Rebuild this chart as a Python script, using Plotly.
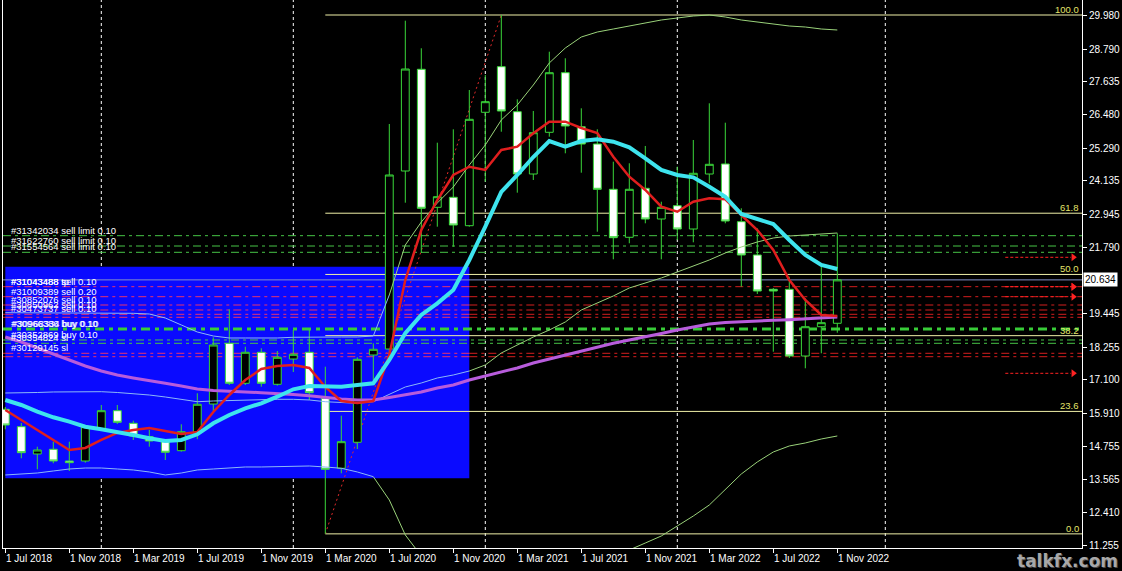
import plotly.graph_objects as go

# ---------------- data ----------------
months = [
    "Jul 2018", "Aug 2018", "Sep 2018", "Oct 2018", "Nov 2018", "Dec 2018",
    "Jan 2019", "Feb 2019", "Mar 2019", "Apr 2019", "May 2019", "Jun 2019",
    "Jul 2019", "Aug 2019", "Sep 2019", "Oct 2019", "Nov 2019", "Dec 2019",
    "Jan 2020", "Feb 2020", "Mar 2020", "Apr 2020", "May 2020", "Jun 2020",
    "Jul 2020", "Aug 2020", "Sep 2020", "Oct 2020", "Nov 2020", "Dec 2020",
    "Jan 2021", "Feb 2021", "Mar 2021", "Apr 2021", "May 2021", "Jun 2021",
    "Jul 2021", "Aug 2021", "Sep 2021", "Oct 2021", "Nov 2021", "Dec 2021",
    "Jan 2022", "Feb 2022", "Mar 2022", "Apr 2022", "May 2022", "Jun 2022",
    "Jul 2022", "Aug 2022", "Sep 2022", "Oct 2022", "Nov 2022",
]
opens = [16.057, 15.441, 14.476, 14.642, 14.228, 14.228, 15.349, 16.007, 15.562, 15.088,
         14.911, 14.592, 15.229, 16.244, 18.391, 16.977, 18.073, 16.941, 17.836, 18.073,
         16.446, 13.970, 14.890, 17.978, 18.190, 24.486, 28.084, 23.202, 23.556, 22.551,
         26.563, 28.176, 26.584, 24.380, 25.855, 27.963, 26.053, 25.441, 23.839, 22.141,
         23.874, 22.788, 23.259, 22.434, 24.380, 24.734, 22.693, 21.515, 20.301, 20.301,
         17.942, 18.978, 19.099]
highs = [16.140, 15.572, 14.734, 14.911, 14.911, 15.501, 16.209, 16.209, 15.653, 15.325,
         14.971, 15.526, 16.623, 18.604, 19.594, 18.271, 18.215, 18.119, 18.862, 18.897,
         17.564, 15.830, 17.896, 18.391, 26.149, 29.803, 28.827, 25.487, 25.961, 27.351,
         27.882, 30.004, 27.022, 26.609, 28.706, 28.473, 26.704, 25.961, 24.815, 24.759,
         25.371, 23.400, 24.638, 25.583, 26.881, 26.195, 23.167, 22.459, 20.347, 20.747,
         19.983, 21.161, 22.282]
lows = [15.350, 14.323, 13.934, 14.147, 13.874, 14.168, 15.289, 15.537, 14.971, 14.734,
        14.263, 14.557, 15.000, 16.000, 16.916, 16.916, 16.856, 16.892, 17.376, 16.386,
        11.650, 13.793, 14.652, 16.987, 17.730, 23.365, 21.586, 22.516, 21.808, 22.516,
        24.108, 25.876, 23.719, 24.168, 25.699, 25.112, 24.426, 22.339, 21.363, 21.929,
        22.636, 21.363, 22.045, 21.964, 24.051, 22.636, 20.394, 20.135, 18.094, 17.871,
        17.507, 18.037, 18.766]
closes = [15.501, 14.521, 14.617, 14.228, 14.168, 15.441, 16.007, 15.597, 15.112, 14.935,
          14.536, 15.264, 16.234, 18.331, 16.977, 18.073, 16.977, 17.896, 18.002, 16.644,
          13.934, 14.911, 17.825, 18.179, 24.345, 28.094, 23.167, 23.577, 22.576, 26.315,
          26.938, 26.609, 24.380, 25.841, 27.963, 26.078, 25.441, 23.839, 22.127, 23.839,
          22.788, 23.202, 22.434, 24.405, 24.723, 22.717, 21.515, 20.241, 20.241, 17.942,
          18.978, 19.120, 20.634]

ma_cyan = [16.386, 16.209, 15.972, 15.774, 15.618, 15.441, 15.349, 15.264, 15.147, 15.031,
           14.935, 14.971, 15.172, 15.562, 15.855, 16.092, 16.269, 16.502, 16.764, 16.881,
           16.856, 16.856, 16.916, 16.976, 17.801, 18.745, 19.393, 19.806, 20.277, 21.338,
           22.516, 23.743, 24.345, 24.981, 25.547, 25.346, 25.547, 25.608, 25.523, 25.325,
           24.935, 24.522, 24.345, 24.263, 23.931, 23.577, 22.965, 22.778, 22.611, 22.045,
           21.515, 21.161, 21.020]
ma_red = [16.032, 15.679, 15.325, 14.971, 14.617, 14.688, 14.971, 15.219, 15.325, 15.395,
          15.289, 15.183, 15.254, 15.961, 16.562, 17.093, 17.482, 17.588, 17.624, 17.518,
          16.846, 16.350, 16.280, 16.350, 17.978, 20.630, 22.399, 23.460, 24.345, 24.638,
          24.522, 25.229, 25.346, 25.820, 26.230, 26.230, 26.007, 25.830, 24.992, 24.285,
          23.814, 23.223, 23.046, 23.400, 23.520, 23.485, 22.930, 22.399, 21.692, 20.630,
          19.923, 19.392, 19.357]
ma_violet = [18.614, 18.437, 18.225, 18.013, 17.801, 17.588, 17.411, 17.270, 17.164, 17.057,
             16.976, 16.881, 16.775, 16.722, 16.686, 16.669, 16.644, 16.623, 16.580, 16.538,
             16.474, 16.421, 16.386, 16.386, 16.474, 16.580, 16.669, 16.810, 16.916, 17.093,
             17.235, 17.352, 17.518, 17.695, 17.836, 17.960, 18.102, 18.243, 18.392, 18.508,
             18.614, 18.738, 18.862, 18.968, 19.074, 19.127, 19.145, 19.180, 19.205, 19.226,
             19.258, 19.286, 19.322]
bb_upper = [19.474, 19.474, 19.474, 19.474, 19.474, 19.463, 19.463, 19.463, 19.452, 19.428,
            19.286, 19.039, 18.791, 18.649, 18.579, 18.579, 18.568, 18.579, 18.604, 18.614,
            18.625, 18.614, 18.614, 18.649, 20.100, 21.868, 22.682, 23.354, 23.920, 24.698,
            25.406, 26.290, 26.821, 27.528, 28.307, 28.837, 29.226, 29.403, 29.509, 29.615,
            29.722, 29.828, 29.898, 29.969, 30.004, 29.934, 29.828, 29.757, 29.686, 29.615,
            29.580, 29.509, 29.474]
bb_mid = [16.633, 16.633, 16.651, 16.669, 16.669, 16.679, 16.679, 16.651, 16.616, 16.562,
          16.492, 16.403, 16.325, 16.350, 16.368, 16.386, 16.403, 16.410, 16.410, 16.386,
          16.325, 16.297, 16.269, 16.325, 16.598, 16.846, 16.987, 17.164, 17.270, 17.411,
          17.624, 18.049, 18.331, 18.614, 18.862, 19.145, 19.569, 19.817, 20.065, 20.348,
          20.524, 20.701, 20.913, 21.126, 21.338, 21.586, 21.798, 21.975, 22.116, 22.187,
          22.222, 22.258, 22.293]
bb_lower = [13.733, 13.768, 13.803, 13.874, 13.945, 13.980, 13.980, 13.945, 13.910, 13.839,
            13.733, 13.803, 13.910, 13.945, 13.980, 14.016, 14.016, 14.033, 14.051, 14.051,
            14.016, 13.970, 13.839, 13.673, 12.849, 11.611, 10.868, 10.974, 10.620, 10.125,
            9.948, 9.806, 9.842, 9.700, 9.417, 9.453, 9.912, 10.231, 10.620, 11.080,
            11.327, 11.575, 11.929, 12.282, 12.671, 13.237, 13.768, 14.193, 14.547, 14.759,
            14.865, 15.006, 15.113]

tick_months = ["Jul 2018", "Nov 2018", "Mar 2019", "Jul 2019", "Nov 2019", "Mar 2020",
               "Jul 2020", "Nov 2020", "Mar 2021", "Jul 2021", "Nov 2021", "Mar 2022",
               "Jul 2022", "Nov 2022"]
tick_labels = ["1 Jul 2018", "1 Nov 2018", "1 Mar 2019", "1 Jul 2019", "1 Nov 2019",
               "1 Mar 2020", "1 Jul 2020", "1 Nov 2020", "1 Mar 2021", "1 Jul 2021",
               "1 Nov 2021", "1 Mar 2022", "1 Jul 2022", "1 Nov 2022"]
y_ticks = [29.980, 28.790, 27.635, 26.480, 25.290, 24.135, 22.945, 21.790,
           19.445, 18.255, 17.100, 15.910, 14.755, 13.565, 12.410, 11.255]
grid_months = ["Jan 2019", "Jan 2020", "Jan 2021", "Jan 2022", "Feb 2023"]

fib_from_month = "Mar 2020"
fib_to_month = "Feb 2021"
fib_levels = [0.0, 23.6, 38.2, 50.0, 61.8, 100.0]

rect_months = ["Jul 2018", "Dec 2020"]
rect_prices = [13.616, 21.101]

current_price = 20.634
sell_limit_levels = [22.198, 21.833, 21.610]
sell_levels = [20.394, 20.040, 19.746, 19.569, 19.417, 19.311]
buy_main_level = 18.897
buy_levels = [18.508, 18.391]
sl_levels = [18.037, 17.917]
arrow_levels = [21.433, 20.394, 20.394, 20.040, 17.330]

order_label_texts = ["#31342034 sell limit 0.10", "#31622760 sell limit 0.10",
                     "#31554564 sell limit 0.10", "#31043488 sell 0.10", "#31043488 tp",
                     "#31009389 sell 0.20", "#30852076 sell 0.10", "#30850962 sell 0.10",
                     "#30473737 sell 0.10", "#30966386 buy 0.10", "#30968334 buy 0.10",
                     "#30352869 buy 0.10", "#30354824 sl", "#30129145 sl"]
order_label_levels = [22.198, 21.833, 21.610, 20.394, 20.394, 20.040, 19.746, 19.569,
                      19.417, 18.897, 18.897, 18.508, 18.391, 18.037]

# ---------------- helpers / styling ----------------
MON = ["Jan", "Feb", "Mar", "Apr", "May", "Jun", "Jul", "Aug", "Sep", "Oct", "Nov", "Dec"]


def month_index(label):
    mon, yr = label.split()
    return (int(yr) - 2018) * 12 + MON.index(mon) - 6


x = [month_index(m) for m in months]
X_RANGE = [-0.14375, 67.29375]
Y_RANGE = [11.150, 30.535]
FONT = "Liberation Sans, Arial, sans-serif"

CANDLE = "#3ad83a"
CYAN = "#3ee4ee"
RED = "#e01e1e"
VIOLET = "#b85cdc"
BB_OUT = "#9ad27a"
BB_IN = "#8cb8f8"
FIB = "#f0f0a8"
FIB_TXT = "#e4e46a"
ORD_RED = "#d41e1e"
ORD_RED_IN = "#e8336e"
ORD_GREEN = "#46c446"

rx0, rx1 = month_index(rect_months[0]), month_index(rect_months[1])


def inside_rect(i, v):
    return x[i] <= rx1 and rect_prices[0] <= v <= rect_prices[1]


def split_band(values):
    flags = [inside_rect(i, v) for i, v in enumerate(values)]
    n = len(values)
    ins = [v if flags[i] else None for i, v in enumerate(values)]
    outs = []
    for i, v in enumerate(values):
        keep = (not flags[i]) or (i > 0 and not flags[i - 1]) or (i < n - 1 and not flags[i + 1])
        outs.append(v if keep else None)
    return ins, outs


fig = go.Figure()

for band in (bb_upper, bb_mid, bb_lower):
    ins, outs = split_band(band)
    fig.add_trace(go.Scatter(x=x, y=outs, mode="lines", line=dict(color=BB_OUT, width=1),
                             hoverinfo="skip"))
    fig.add_trace(go.Scatter(x=x, y=ins, mode="lines", line=dict(color=BB_IN, width=1),
                             hoverinfo="skip"))

fig.add_trace(go.Scatter(x=x, y=ma_violet, mode="lines", line=dict(color=VIOLET, width=3),
                         hoverinfo="skip"))
fig.add_trace(go.Scatter(x=x, y=ma_red, mode="lines", line=dict(color=RED, width=2.5),
                         hoverinfo="skip"))
fig.add_trace(go.Scatter(x=x, y=ma_cyan, mode="lines", line=dict(color=CYAN, width=4),
                         hoverinfo="skip"))

fig.add_trace(go.Candlestick(
    x=x, open=opens, high=highs, low=lows, close=closes,
    increasing=dict(line=dict(color=CANDLE, width=1), fillcolor="#000000"),
    decreasing=dict(line=dict(color=CANDLE, width=1), fillcolor="#ffffff"),
    whiskerwidth=0, hoverinfo="skip"))

# arrow heads on the right
fig.add_trace(go.Scatter(x=[66.75] * len(arrow_levels), y=arrow_levels, mode="markers",
                         marker=dict(symbol="triangle-right", size=7, color="#ff2222"),
                         hoverinfo="skip"))

shapes = []
# blue rectangle
shapes.append(dict(type="rect", xref="x", yref="y", x0=rx0, x1=rx1,
                   y0=rect_prices[0], y1=rect_prices[1], fillcolor="#0a0aff",
                   line=dict(width=0), layer="below"))
# vertical dashed separators
for gm in grid_months:
    gx = month_index(gm)
    shapes.append(dict(type="line", xref="x", yref="paper", x0=gx, x1=gx, y0=0, y1=1,
                       line=dict(color="#ffffff", width=1, dash="3px,3px"), layer="below"))


def order_line(level, color, width, dash, split=False):
    if split:
        shapes.append(dict(type="line", xref="x", yref="y", x0=X_RANGE[0], x1=rx0,
                           y0=level, y1=level, line=dict(color=color, width=width, dash=dash),
                           layer="below"))
        shapes.append(dict(type="line", xref="x", yref="y", x0=rx0, x1=rx1,
                           y0=level, y1=level, line=dict(color=ORD_RED_IN, width=width, dash=dash),
                           layer="below"))
        shapes.append(dict(type="line", xref="x", yref="y", x0=rx1, x1=X_RANGE[1],
                           y0=level, y1=level, line=dict(color=color, width=width, dash=dash),
                           layer="below"))
    else:
        shapes.append(dict(type="line", xref="x", yref="y", x0=X_RANGE[0], x1=X_RANGE[1],
                           y0=level, y1=level, line=dict(color=color, width=width, dash=dash),
                           layer="below"))


DASHDOT = "8px,4px,3px,4px"
for lv in sell_limit_levels:
    order_line(lv, ORD_GREEN, 1, DASHDOT)
for lv in sell_levels:
    order_line(lv, ORD_RED, 1, DASHDOT, split=True)
order_line(buy_main_level, "#38cc38", 3, "9px,5px,4px,5px")
for lv in buy_levels:
    order_line(lv, ORD_GREEN, 1, DASHDOT)
for lv in sl_levels:
    order_line(lv, ORD_RED, 1, DASHDOT, split=True)

# bid line
shapes.append(dict(type="line", xref="x", yref="y", x0=X_RANGE[0], x1=X_RANGE[1],
                   y0=current_price, y1=current_price,
                   line=dict(color="#8490c8", width=1), layer="below"))

# fibonacci
fi0 = months.index(fib_from_month)
fi1 = months.index(fib_to_month)
fib_low = lows[fi0]
fib_high = highs[fi1]
for lvl in fib_levels:
    price = fib_low + (fib_high - fib_low) * lvl / 100.0
    shapes.append(dict(type="line", xref="x", yref="y", x0=x[fi0], x1=X_RANGE[1],
                       y0=price, y1=price, line=dict(color=FIB, width=1), layer="below"))
shapes.append(dict(type="line", xref="x", yref="y", x0=x[fi0], x1=x[fi1],
                   y0=fib_low, y1=fib_high, line=dict(color="#e02a2a", width=1, dash="2px,3px"),
                   layer="below"))

# arrow shafts
for lv in arrow_levels:
    shapes.append(dict(type="line", xref="x", yref="y", x0=62.5, x1=66.6, y0=lv, y1=lv,
                       line=dict(color="#ff2222", width=1, dash="3px,2px"), layer="below"))

annotations = []
for lvl in fib_levels:
    price = fib_low + (fib_high - fib_low) * lvl / 100.0
    annotations.append(dict(xref="x", yref="y", x=X_RANGE[1], y=price, text=f"{lvl:.1f}",
                            xanchor="right", yanchor="bottom", xshift=-1, yshift=-2,
                            showarrow=False, font=dict(family=FONT, size=9.5, color=FIB_TXT)))

for i, (txt, lv) in enumerate(zip(order_label_texts, order_label_levels)):
    shift = 1 if "30968334" in txt else 0
    annotations.append(dict(xref="paper", yref="y", x=0, y=lv, text=txt,
                            xanchor="left", yanchor="bottom", xshift=6 + shift, yshift=-2,
                            showarrow=False, font=dict(family=FONT, size=9.5, color="#ffffff")))

for tm, tl in zip(tick_months, tick_labels):
    annotations.append(dict(xref="x", yref="paper", x=month_index(tm), y=0, text=tl,
                            xanchor="left", yanchor="top", xshift=-1, yshift=-3,
                            showarrow=False, font=dict(family=FONT, size=10, color="#ffffff")))

annotations.append(dict(xref="paper", yref="y", x=1, y=current_price, text=f"{current_price:.3f}",
                        xanchor="left", yanchor="middle", xshift=1, showarrow=False,
                        bgcolor="#ffffff", borderpad=1,
                        font=dict(family=FONT, size=10, color="#000000")))

annotations.append(dict(xref="paper", yref="paper", x=1, y=0, text="<b>talkfx.com</b>",
                        xanchor="right", yanchor="top", xshift=39, yshift=-2, showarrow=False,
                        font=dict(family="DejaVu Sans", size=17, color="#4a4a4a")))
annotations.append(dict(xref="paper", yref="paper", x=1, y=0, text="<b>talkfx.com</b>",
                        xanchor="right", yanchor="top", xshift=38, yshift=-1, showarrow=False,
                        font=dict(family="DejaVu Sans", size=17, color="#a8a8a8")))

fig.update_layout(
    width=1122, height=571,
    margin=dict(l=3, r=40, t=0, b=23),
    paper_bgcolor="#000000", plot_bgcolor="#000000",
    showlegend=False,
    shapes=shapes, annotations=annotations,
    xaxis=dict(type="linear", range=X_RANGE, showgrid=False, zeroline=False,
               showline=True, linecolor="#ffffff", linewidth=1,
               ticks="outside", ticklen=4, tickcolor="#ffffff",
               tickvals=[month_index(m) for m in tick_months], showticklabels=False,
               rangeslider=dict(visible=False), automargin=False, fixedrange=True),
    yaxis=dict(side="right", range=Y_RANGE, showgrid=False, zeroline=False,
               showline=True, mirror=True, linecolor="#ffffff", linewidth=1,
               ticks="outside", ticklen=4, tickcolor="#ffffff",
               tickvals=y_ticks, tickformat=".3f",
               tickfont=dict(family=FONT, size=10, color="#ffffff"),
               automargin=False, fixedrange=True),
)

fig.write_html("out.html",
               config={"displayModeBar": False},
               post_script="document.body.style.margin='0';document.body.style.background='#000';")
